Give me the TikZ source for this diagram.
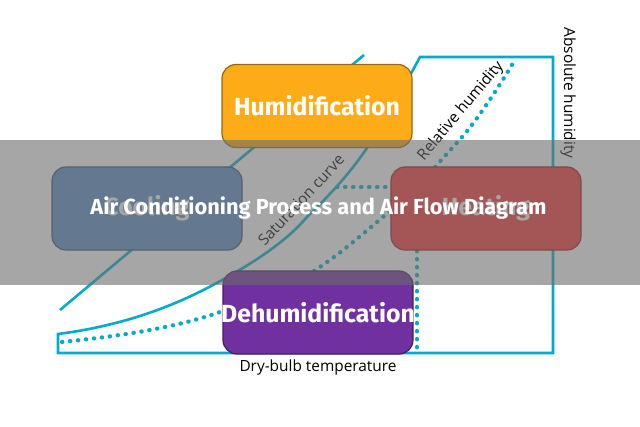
\documentclass[tikz,border=0pt]{standalone}
\usepackage{fontspec}
\setmainfont{Open Sans}
\newfontfamily\headfont{Fira Sans}
\definecolor{chartline}{RGB}{0,172,200}
\definecolor{humidfill}{RGB}{253,171,23}
\definecolor{coolfill}{RGB}{90,140,197}
\definecolor{heatfill}{RGB}{250,52,52}
\definecolor{dehumidfill}{RGB}{112,48,160}
\definecolor{bandgray}{RGB}{107,107,107}
\begin{document}
\begin{tikzpicture}[
    x=1pt, y=-1pt,
    process/.style={rectangle, draw=#1!60!black, fill=#1, line width=1.2pt, rounded corners=14pt, inner xsep=-3pt, inner ysep=0pt, minimum width=190pt, minimum height=83pt, text=white, font=\headfont\bfseries\fontsize{24.8}{26}\selectfont},
    chart/.style={draw=chartline, line width=2.6pt},
    dots/.style={draw=chartline, line width=4.2pt, line cap=round, dash pattern=on 0.4pt off 7.6pt},
    axislabel/.style={font=\fontsize{15.4}{17}\selectfont, text=black}
]
    \useasboundingbox (0,0) rectangle (640,427);

    % Chart outline and curves
    \draw[chart] (58,334) .. controls (120,326) and (170,308) .. (213,285) .. controls (250,265) and (285,243) .. (307,217) .. controls (335,190) and (352,170) .. (367,148) .. controls (385,120) and (405,85) .. (420,57) -- (553,57) -- (553,353) -- (58,353) -- cycle;
    \draw[chart] (60,310) -- (364,55);
    \draw[dots] (62,342) .. controls (120,336) and (175,328) .. (220,312) .. controls (260,298) and (295,285) .. (320,267) .. controls (345,250) and (365,232) .. (383,217) .. controls (405,200) and (425,180) .. (437,165) .. controls (450,150) and (460,140) .. (468,130) .. controls (485,108) and (500,85) .. (513,63);
    \draw[dots] (337,187) -- (417,187) -- (417,352);

    % Chart labels
    \node[axislabel, rotate=47] (saturation_label) at (301,200) {Saturation curve};
    \node[axislabel, rotate=50] (relative_label) at (461,111) {Relative humidity};
    \node[axislabel, rotate=-90] (absolute_label) at (568,93) {Absolute humidity};
    \node[axislabel] (drybulb_label) at (318,368) {Dry-bulb temperature};

    % Process boxes
    \node[process=humidfill] (humidification) at (317,106) {Humidification};
    \node[process=coolfill] (cooling) at (147,208.5) {Cooling};
    \node[process=heatfill] (heating) at (486,208.5) {Heating};
    \node[process=dehumidfill] (dehumidification) at (318,312.5) {Dehumidification};

    % Title band
    \node[rectangle, fill=bandgray, fill opacity=0.6, minimum width=640pt, minimum height=145pt, inner sep=0pt] (band) at (320,212.5) {};
    \node[text=white, font=\headfont\bfseries\fontsize{21.8}{24}\selectfont] (title) at (318.5,208) {Air Conditioning Process and Air Flow Diagram};
\end{tikzpicture}
\end{document}
